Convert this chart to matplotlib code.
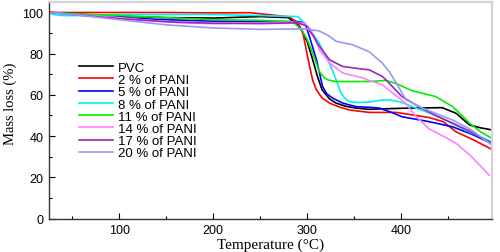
import matplotlib
matplotlib.use("Agg")
import matplotlib.pyplot as plt

labels = ["PVC", "2 % of PANI", "5 % of PANI", "8 % of PANI", "11 % of PANI",
          "14 % of PANI", "17 % of PANI", "20 % of PANI"]
colors = ["#000000", "#ff0000", "#0000ff", "#00f0f0", "#00ee00", "#ff80ff", "#a020c0", "#9999ee"]

t_pvc = [25, 50, 100, 150, 200, 250, 280, 292, 300, 306, 311, 316, 324, 331, 341, 352, 366, 400, 444, 459, 473, 485, 497]
m_pvc = [100, 99.3, 98.2, 97.5, 97.3, 98, 97.5, 93.3, 86, 77, 69, 62.4, 58, 56, 54.5, 53.6, 53, 53.5, 53.8, 51, 45.4, 44, 43]

t_2 = [25, 50, 100, 150, 200, 239, 281, 290, 295.5, 299, 302.7, 306, 310, 316, 324, 335, 345, 366, 395, 430, 445, 459, 478, 497]
m_2 = [100, 100, 100, 100, 99.8, 99.9, 97.9, 95, 90, 82, 73.8, 67, 62.4, 58.5, 56, 54, 52.7, 51.5, 51.5, 49, 47, 42, 38, 33.5]

t_5 = [25, 50, 100, 150, 200, 250, 290, 297, 299, 304, 310, 316.5, 321, 327, 338, 352, 366, 377, 390, 401, 430, 455, 475, 497]
m_5 = [100, 99.5, 97.5, 96.5, 95.8, 95.6, 95.6, 95, 93.3, 86, 77, 64, 60.5, 58.5, 56, 54.3, 54, 53.6, 51.5, 49.4, 47, 44.5, 41, 36.4]

t_8 = [25, 30, 40, 60, 100, 150, 200, 250, 290, 297, 302.7, 308, 313, 320, 327, 332, 336, 340, 345, 355, 366, 380, 388, 400, 412, 437, 455, 473, 497]
m_8 = [100, 99, 98.5, 98.5, 99, 99, 99, 98.5, 98, 95, 91.7, 88.5, 85, 79, 72, 66, 61, 58.5, 56.7, 56.3, 56.5, 57.5, 57.6, 56.5, 54.3, 50, 46, 42, 37.2]

t_11 = [25, 50, 100, 150, 200, 250, 285, 295, 300, 304.5, 313, 318, 322, 330, 348, 366, 384, 395, 412, 437, 455, 465, 473, 485, 497]
m_11 = [100, 99.5, 98.5, 97.5, 96.5, 96.2, 95.5, 91, 87, 82, 71.4, 68.5, 67.3, 66.5, 66.5, 66.5, 67, 65.5, 62, 59.2, 54.3, 50, 46.3, 42, 38.9]

t_14 = [25, 50, 100, 122, 165, 200, 250, 290, 297, 302.7, 308, 313, 324, 338, 359, 366, 380, 388, 405, 415, 430, 445, 459, 473, 487, 494]
m_14 = [100, 99, 97.5, 96.6, 95, 94.5, 95, 95.2, 94.5, 92.7, 88, 82, 75.5, 70.6, 68.3, 67, 65, 62, 56, 50, 43.5, 40, 36.4, 31, 24.4, 21]

t_17 = [25, 50, 100, 150, 200, 250, 290, 299, 306, 313, 324, 338, 359, 366, 380, 384, 401, 419, 437, 455, 475, 497]
m_17 = [100, 99, 97, 95.5, 94.8, 94.6, 95, 93.5, 89, 83.6, 77, 73.8, 72.5, 72.2, 69, 67.3, 59.2, 54.3, 50, 46.3, 42, 36.5]

t_20 = [25, 50, 100, 150, 200, 250, 290, 300, 313, 322, 331, 348, 366, 380, 388, 395, 405.5, 423, 440, 455, 475, 497]
m_20 = [100, 99, 96.5, 94, 92.5, 91.8, 92, 92, 91, 89, 86, 84.4, 81, 75.5, 71, 65.7, 57.6, 53.6, 50.5, 47.8, 43, 35.6]

series_t = [t_pvc, t_2, t_5, t_8, t_11, t_14, t_17, t_20]
series_m = [m_pvc, m_2, m_5, m_8, m_11, m_14, m_17, m_20]

x_ticks = [100, 200, 300, 400]
y_ticks = [0, 20, 40, 60, 80, 100]

fig = plt.figure(figsize=(5.0, 2.53), dpi=100)
ax = fig.add_axes([0.098, 0.1324, 0.886, 0.855])

for t, m, c, lab in zip(series_t, series_m, colors, labels):
    ax.plot(t, m, color=c, lw=1.2, label=lab)

ax.set_xlim(25, 497)
ax.set_ylim(0, 105)
ax.set_xticks(x_ticks)
ax.set_yticks(y_ticks)
ax.set_xticks([50, 150, 250, 350, 450], minor=True)
ax.set_yticks([10, 30, 50, 70, 90], minor=True)
ax.tick_params(direction="in", length=4, width=0.8, labelsize=9, pad=4)
ax.tick_params(which="minor", direction="in", length=2, width=0.8)
for lbl in ax.get_xticklabels() + ax.get_yticklabels():
    lbl.set_family("Liberation Sans")

for s in ["top", "right"]:
    ax.spines[s].set_color("#d4d4d4")
    ax.spines[s].set_linewidth(1.6)
for s in ["left", "bottom"]:
    ax.spines[s].set_color("#333333")
    ax.spines[s].set_linewidth(1.0)

ax.set_xlabel("Temperature (°C)", family="Liberation Serif", fontsize=11, labelpad=1)
ax.set_ylabel("Mass loss (%)", family="Liberation Serif", fontsize=10.5)
ax.yaxis.set_label_coords(-0.072, 0.533)

leg = ax.legend(loc="upper left", bbox_to_anchor=(72 / 500, 1 - 56 / 253),
                bbox_transform=fig.transFigure, frameon=False, borderpad=0,
                handlelength=2.6, handletextpad=0.4, labelspacing=0.0,
                prop={"family": "Liberation Sans", "size": 9.5})

fig.savefig("out.png", dpi=100)
